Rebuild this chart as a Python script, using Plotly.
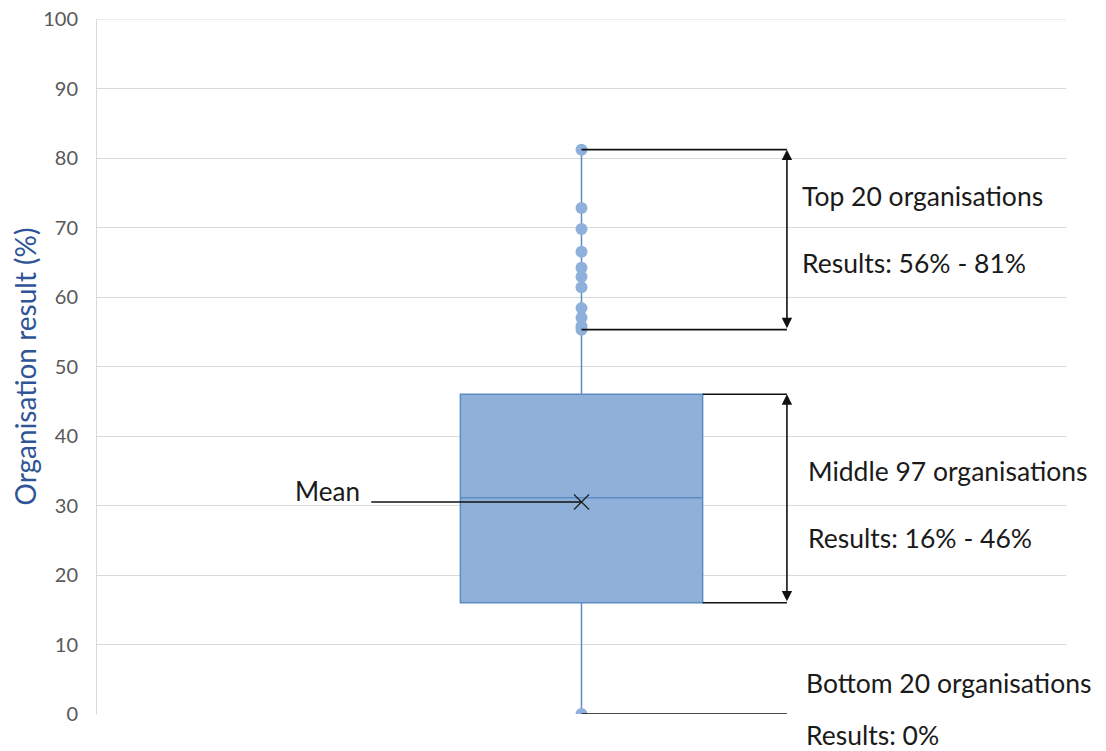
import plotly.graph_objects as go

# ---- data ----
q1 = 16.0
median = 31.1
q3 = 46.0
mean = 30.5
minimum = 0.0
top_points = [81.2, 72.8, 69.8, 66.5, 64.2, 62.9, 61.4, 58.4, 57.0, 55.8, 55.3]
bottom_points = [0.0]
y_ticks = [0, 10, 20, 30, 40, 50, 60, 70, 80, 90, 100]

labels_top = ["Top 20 organisations", "Results: 56% - 81%"]
labels_mid = ["Middle 97 organisations", "Results: 16% - 46%"]
labels_bot = ["Bottom 20 organisations", "Results: 0%"]

# ---- layout constants ----
xc = 0.5
box_w = 0.25
x_br = 0.712
FONT = "Lato, Open Sans, sans-serif"
txt_font = dict(family=FONT, size=26.5, color="#1a1a1a")

fig = go.Figure()
fig.add_trace(go.Box(
    x=[xc], q1=[q1], median=[median], q3=[q3],
    lowerfence=[minimum], upperfence=[max(top_points)],
    width=box_w, whiskerwidth=0, boxpoints=False,
    fillcolor="#8FB0D9", line=dict(color="#5B8DC4", width=1.5),
    showlegend=False, hoverinfo="skip",
))
pts = top_points + bottom_points
fig.add_trace(go.Scatter(
    x=[xc] * len(pts), y=pts, mode="markers",
    marker=dict(color="#8EB1DC", size=12), showlegend=False,
))
fig.add_trace(go.Scatter(
    x=[xc], y=[mean], mode="markers",
    marker=dict(symbol="x-thin-open", size=15, color="#222222",
                line=dict(color="#222222", width=1.3)),
    showlegend=False,
))

line = dict(color="#111111", width=1.6)
tmax, tmin = max(top_points), min(top_points)
shapes = [
    dict(type="line", xref="paper", yref="y", x0=0, x1=1, y0=max(y_ticks), y1=max(y_ticks),
         line=dict(color="#D9D9D9", width=1), layer="below"),
    dict(type="line", xref="x", yref="y", x0=xc, x1=x_br, y0=tmax, y1=tmax, line=line),
    dict(type="line", xref="x", yref="y", x0=xc, x1=x_br, y0=tmin, y1=tmin, line=line),
    dict(type="line", xref="x", yref="y", x0=xc + box_w / 2, x1=x_br, y0=q3, y1=q3, line=line),
    dict(type="line", xref="x", yref="y", x0=xc + box_w / 2, x1=x_br, y0=q1, y1=q1, line=line),
    dict(type="line", xref="x", yref="y", x0=xc, x1=x_br, y0=minimum, y1=minimum, line=line),
    dict(type="line", xref="x", yref="y", x0=0.283, x1=xc, y0=mean, y1=mean, line=line),
]
fig.update_layout(shapes=shapes)

annotations = []
for y0, y1 in [(tmin, tmax), (q1, q3)]:
    annotations.append(dict(
        x=x_br, y=y1, ax=x_br, ay=y0, xref="x", yref="y", axref="x", ayref="y",
        text="", showarrow=True, arrowhead=2, arrowsize=1.3, arrowwidth=1.6,
        arrowcolor="#111111", arrowside="end+start", standoff=0, startstandoff=0,
    ))

def txt(x, y, s, yshift=0):
    annotations.append(dict(x=x, y=y, xref="x", yref="y", text=s, showarrow=False,
                            xanchor="left", yanchor="middle", yshift=yshift, font=txt_font))

txt(0.7255, 74.6, labels_top[0])
txt(0.7255, 64.9, labels_top[1])
txt(0.7317, 34.9, labels_mid[0])
txt(0.7317, 25.3, labels_mid[1])
txt(0.7296, 4.5, labels_bot[0])
txt(0.7296, 0, labels_bot[1], yshift=-21)
annotations.append(dict(x=0.2735, y=mean, xref="x", yref="y", text="Mean", showarrow=False,
                        xanchor="right", yanchor="middle", yshift=11,
                        font=dict(family=FONT, size=26, color="#1a1a1a")))
fig.update_layout(annotations=annotations)

fig.update_layout(
    width=1106, height=751,
    margin=dict(l=89, r=48, t=11, b=45, autoexpand=False),
    plot_bgcolor="white", paper_bgcolor="white",
    xaxis=dict(range=[0, 1], showticklabels=False, showgrid=False, zeroline=False,
               showline=False, fixedrange=True, automargin=False),
    yaxis=dict(range=[0, 100], tickvals=y_ticks, showgrid=True, gridcolor="#D9D9D9",
               gridwidth=1, zeroline=False, showline=True, linecolor="#D9D9D9",
               automargin=False,
               tickfont=dict(family=FONT, size=20, color="#595959"),
               ticks="", ticklabelstandoff=14, ticklabeloverflow="allow",
               title=dict(text="Organisation result (%)", standoff=10,
                          font=dict(family=FONT, size=28, color="#2F5597"))),
)

fig.write_html("out.html")
